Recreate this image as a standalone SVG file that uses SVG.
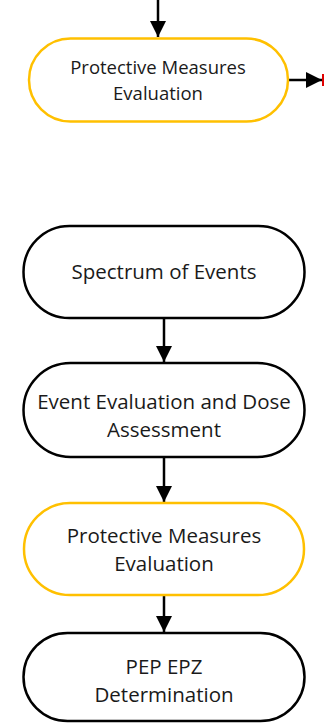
<svg xmlns="http://www.w3.org/2000/svg" width="332" height="725" viewBox="0 0 332 725">
<style>
.n{fill:#fff;stroke:#000;stroke-width:2.5}
.y{fill:#fff;stroke:#FFC000;stroke-width:2.5}
.t{font-family:"Open Sans","Noto Sans",sans-serif;font-size:20.5px;fill:#1a1a1a;text-anchor:middle}
.c{stroke:#000;stroke-width:2.5;fill:none}
</style>
<defs>
<marker id="ah" viewBox="0 0 10 10" refX="10" refY="5" markerWidth="6.5" markerHeight="6.5" markerUnits="strokeWidth" orient="auto">
<path d="M0,0 L10,5 L0,10 z" fill="#000"/>
</marker>
</defs>
<g id="connectors">
<line class="c" x1="158" y1="0" x2="158" y2="37" marker-end="url(#ah)"/>
<line class="c" x1="288" y1="80" x2="322" y2="80" marker-end="url(#ah)"/>
<rect x="322" y="74" width="2" height="12" fill="#e00000"/>
<line class="c" x1="164" y1="318" x2="164" y2="362" marker-end="url(#ah)"/>
<line class="c" x1="164" y1="457" x2="164" y2="502" marker-end="url(#ah)"/>
<line class="c" x1="164" y1="595" x2="164" y2="632" marker-end="url(#ah)"/>
</g>
<g id="node1">
<rect class="y" x="29" y="38.5" width="259" height="83" rx="41.5"/>
<text class="t" style="font-size:18.5px" x="158" y="74">Protective Measures</text>
<text class="t" style="font-size:18.5px" x="158" y="100">Evaluation</text>
</g>
<g id="node2">
<rect class="n" x="23.5" y="226" width="281" height="92" rx="46"/>
<text class="t" x="164" y="279">Spectrum of Events</text>
</g>
<g id="node3">
<rect class="n" x="23.5" y="363" width="281" height="94" rx="47"/>
<text class="t" x="164" y="409">Event Evaluation and Dose</text>
<text class="t" x="164" y="437">Assessment</text>
</g>
<g id="node4">
<rect class="y" x="24" y="503" width="280" height="92" rx="46"/>
<text class="t" x="164" y="543">Protective Measures</text>
<text class="t" x="164" y="571">Evaluation</text>
</g>
<g id="node5">
<rect class="n" x="23.5" y="633" width="281" height="88" rx="44"/>
<text class="t" x="164" y="674">PEP EPZ</text>
<text class="t" x="164" y="702">Determination</text>
</g>
</svg>
